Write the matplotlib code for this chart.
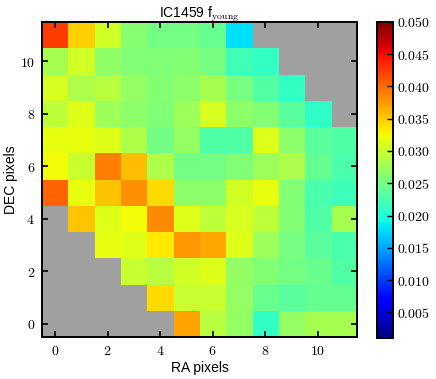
import numpy as np
import matplotlib
matplotlib.use("Agg")
import matplotlib.pyplot as plt
from matplotlib.ticker import FuncFormatter, MultipleLocator

plt.rcParams['mathtext.fontset'] = 'cm'
plt.rcParams['font.family'] = ['Liberation Sans', 'DejaVu Sans']

nan = np.nan
# rows listed from DEC=0 (bottom) to DEC=11 (top); columns RA=0..11
f_young = np.array([
    [nan, nan, nan, nan, nan, 0.0370, 0.0290, 0.0270, 0.0212, 0.0270, 0.0280, 0.0280],
    [nan, nan, nan, nan, 0.0343, 0.0300, 0.0300, 0.0270, 0.0245, 0.0235, 0.0240, 0.0240],
    [nan, nan, nan, 0.0300, 0.0290, 0.0306, 0.0314, 0.0270, 0.0260, 0.0250, 0.0245, 0.0230],
    [nan, nan, 0.0320, 0.0314, 0.0335, 0.0377, 0.0368, 0.0314, 0.0275, 0.0252, 0.0235, 0.0225],
    [nan, 0.0353, 0.0314, 0.0325, 0.0385, 0.0314, 0.0295, 0.0310, 0.0295, 0.0260, 0.0230, 0.0280],
    [0.0404, 0.0320, 0.0353, 0.0381, 0.0343, 0.0265, 0.0265, 0.0306, 0.0320, 0.0260, 0.0225, 0.0218],
    [0.0325, 0.0300, 0.0390, 0.0358, 0.0285, 0.0250, 0.0250, 0.0257, 0.0275, 0.0285, 0.0240, 0.0225],
    [0.0320, 0.0320, 0.0314, 0.0285, 0.0250, 0.0270, 0.0230, 0.0230, 0.0314, 0.0265, 0.0235, 0.0230],
    [0.0295, 0.0314, 0.0275, 0.0265, 0.0257, 0.0275, 0.0310, 0.0265, 0.0260, 0.0235, 0.0210, nan],
    [0.0310, 0.0285, 0.0290, 0.0270, 0.0260, 0.0265, 0.0280, 0.0252, 0.0231, 0.0212, nan, nan],
    [0.0280, 0.0306, 0.0267, 0.0257, 0.0257, 0.0260, 0.0252, 0.0220, 0.0212, nan, nan, nan],
    [0.0425, 0.0348, 0.0306, 0.0262, 0.0250, 0.0250, 0.0242, 0.0180, nan, nan, nan, nan],
])
vmin, vmax = 0.001, 0.050
cbar_ticks = [0.005, 0.010, 0.015, 0.020, 0.025, 0.030, 0.035, 0.040, 0.045, 0.050]
title = r"IC1459 f$_{\mathrm{young}}$"

fig = plt.figure(figsize=(4.36, 3.79), dpi=100)
ax = fig.add_axes([0.0963, 0.1108, 0.7225, 0.831])
cax = fig.add_axes([0.8647, 0.108, 0.0367, 0.834])

cmap = plt.get_cmap('jet').copy()
cmap.set_bad('#a0a0a0')
im = ax.imshow(np.ma.masked_invalid(f_young), origin='lower', cmap=cmap,
               vmin=vmin, vmax=vmax, interpolation='nearest', aspect='auto')

fmt_int = FuncFormatter(lambda v, p: r"$%d$" % round(v))
ax.xaxis.set_major_locator(MultipleLocator(2))
ax.yaxis.set_major_locator(MultipleLocator(2))
ax.xaxis.set_major_formatter(fmt_int)
ax.yaxis.set_major_formatter(fmt_int)
ax.tick_params(direction='in', length=4, width=1.2, top=True, right=True,
               labelsize=10, pad=5)
for s in ax.spines.values():
    s.set_linewidth(1.4)
ax.set_xlabel("RA pixels", fontsize=10, labelpad=2)
ax.set_ylabel("DEC pixels", fontsize=10, labelpad=1)
ax.set_title(title, fontsize=10, pad=3)

cb = fig.colorbar(im, cax=cax, ticks=cbar_ticks)
cb.ax.yaxis.set_major_formatter(FuncFormatter(lambda v, p: r"$%.3f$" % v))
cb.ax.tick_params(direction='in', length=4, width=1.0, labelsize=10, pad=3)
cb.outline.set_linewidth(1.4)

fig.savefig("out.png", dpi=100)
